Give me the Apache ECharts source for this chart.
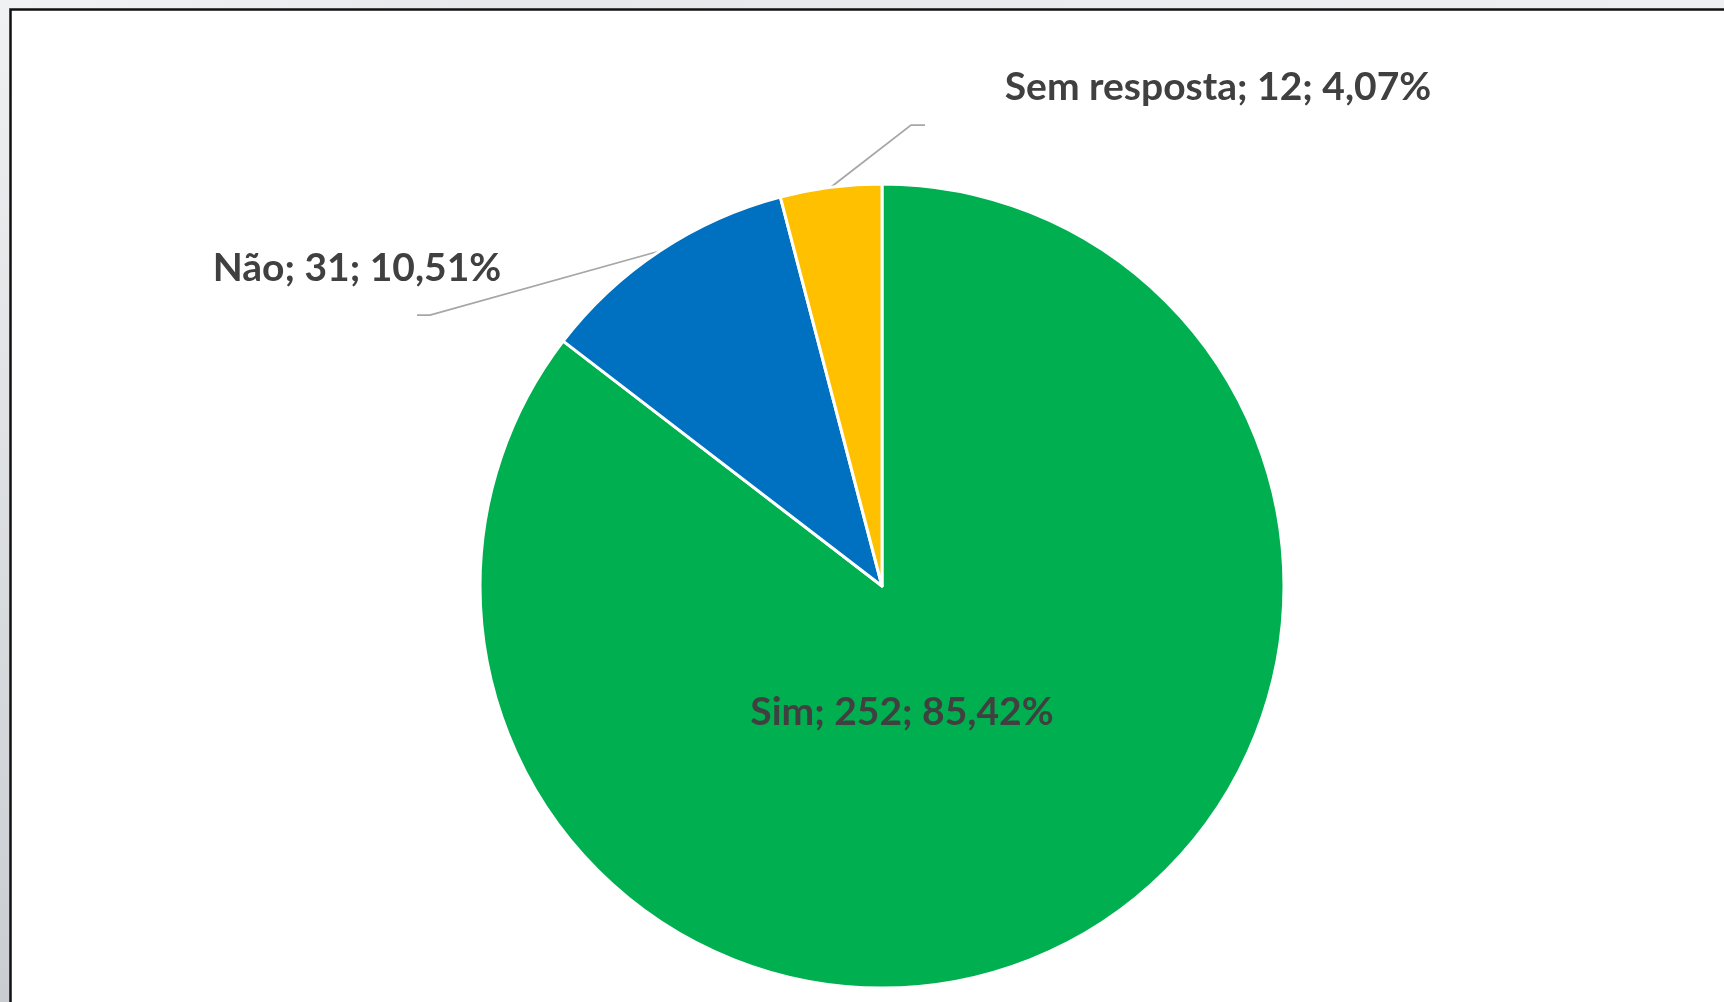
<!DOCTYPE html>
<html>
<head>
<meta charset="utf-8">
<script src="https://cdn.jsdelivr.net/npm/echarts@6/dist/echarts.min.js"></script>
<style>
html,body{margin:0;padding:0;width:1724px;height:1002px;overflow:hidden;background:#fff;}
#chart{width:1724px;height:1002px;}
</style>
</head>
<body>
<div id="chart"></div>
<script>
const categories = ['Sim', 'Não', 'Sem resposta'];
const values = [252, 31, 12];
const percentLabels = ['85,42%', '10,51%', '4,07%'];
const sliceColors = ['#00B050', '#0070C0', '#FFC000'];

const W = 1724, H = 1002;
const CX = 882, CY = 586, R = 402;
// label anchor positions (text centre) and leader line elbows
const labelPos = [[902, 712], [357, 268], [1218, 87]];
const elbows = [null, [[430, 315], [417, 315]], [[911, 125], [925, 125]]];

const total = values.reduce((a, b) => a + b, 0);
function midAngle(i) {
  let s = 0;
  for (let k = 0; k < i; k++) s += values[k];
  return ((s + values[i] / 2) / total) * Math.PI * 2; // clockwise from 12 o'clock
}

const chart = echarts.init(document.getElementById('chart'), null, {renderer: 'canvas'});
chart.setOption({
  backgroundColor: '#ffffff',
  animation: false,
  graphic: [
    {type: 'rect', left: 0, top: 0, z: -10, shape: {width: W, height: 9},
     style: {fill: new echarts.graphic.LinearGradient(0, 0, 1, 0, [{offset: 0, color: '#f1f2f4'}, {offset: 0.3, color: '#e6e8eb'}, {offset: 1, color: '#eeeff1'}])}},
    {type: 'rect', left: 0, top: 0, z: -10, shape: {width: 10, height: H},
     style: {fill: new echarts.graphic.LinearGradient(0, 0, 0, 1, [{offset: 0, color: '#f0f1f3'}, {offset: 1, color: '#c9cdd1'}])}},
    {type: 'rect', z: -5, shape: {x: 10.5, y: 9.5, width: W + 20, height: H + 20},
     style: {fill: '#ffffff', stroke: '#111111', lineWidth: 2.5}}
  ],
  series: [{
    type: 'pie',
    center: [CX, CY],
    radius: [0, R],
    startAngle: 90,
    clockwise: true,
    avoidLabelOverlap: false,
    itemStyle: {borderColor: '#ffffff', borderWidth: 3},
    label: {
      show: true,
      position: 'outside',
      formatter: p => p.name + '; ' + p.value + '; ' + percentLabels[p.dataIndex],
      color: '#404040',
      fontFamily: 'Lato',
      fontWeight: 'bold',
      fontSize: 39
    },
    labelLine: {show: true, lineStyle: {color: '#a6a6a6', width: 1.75}},
    labelLayout: function (params) {
      const i = params.dataIndex;
      const res = {x: labelPos[i][0], y: labelPos[i][1], align: 'center', verticalAlign: 'middle'};
      if (elbows[i]) {
        const a = midAngle(i);
        const start = [CX + R * Math.sin(a), CY - R * Math.cos(a)];
        res.labelLinePoints = [start, elbows[i][0], elbows[i][1]];
      }
      return res;
    },
    data: categories.map((c, i) => ({
      name: c,
      value: values[i],
      itemStyle: {color: sliceColors[i]},
      labelLine: {show: !!elbows[i]}
    }))
  }]
});
</script>
</body>
</html>
